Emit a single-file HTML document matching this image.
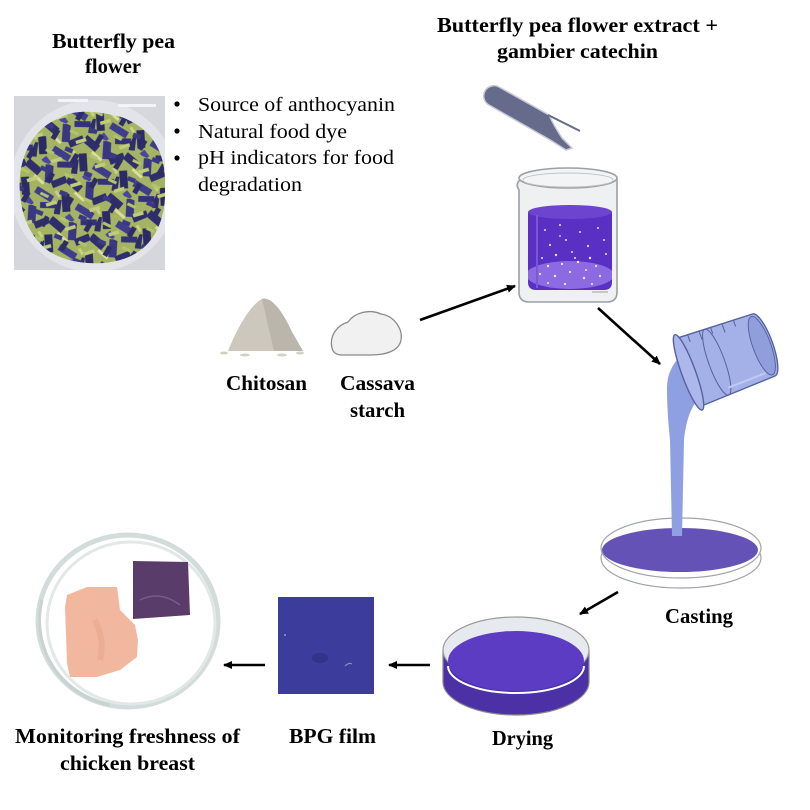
<!DOCTYPE html>
<html><head><meta charset="utf-8"><style>
html,body{margin:0;padding:0;background:#fff;}
svg{display:block;}
text{font-family:"Liberation Serif","Times New Roman",serif;fill:#000;}
.b{font-weight:bold;font-size:21px;}
.r{font-size:20px;}
</style></head><body>
<svg width="810" height="810" viewBox="0 0 810 810" xmlns="http://www.w3.org/2000/svg">
<defs>
<marker id="ah" markerWidth="10" markerHeight="10" refX="8" refY="5" orient="auto" markerUnits="userSpaceOnUse">
<path d="M0,1 L9,5 L0,9 Z" fill="#000"/>
</marker>
<pattern id="fl" width="44" height="44" patternUnits="userSpaceOnUse" patternTransform="rotate(23)">
<rect width="44" height="44" fill="#a4b462"/>
<path d="M0,6 L16,11" stroke="#2f2d6c" stroke-width="8"/>
<path d="M22,0 L28,17" stroke="#3a3782" stroke-width="8"/>
<path d="M4,21 L12,37" stroke="#2c2a66" stroke-width="8"/>
<path d="M19,28 L38,31" stroke="#403c8c" stroke-width="7"/>
<path d="M32,18 L43,7" stroke="#2f2d6c" stroke-width="7"/>
<path d="M29,41 L44,35" stroke="#34317a" stroke-width="6"/>
<path d="M12,16 L24,20" stroke="#dcdea0" stroke-width="3"/>
<path d="M38,22 L44,26" stroke="#c8d27e" stroke-width="3"/>
<path d="M14,40 L21,44" stroke="#4a45a0" stroke-width="6"/>
<path d="M0,29 L4,43" stroke="#2e2c6a" stroke-width="6"/>
</pattern>
<pattern id="fl2" width="31" height="31" patternUnits="userSpaceOnUse" patternTransform="rotate(-38)">
<path d="M3,4 L13,8" stroke="#c1cd78" stroke-width="3.5"/>
<path d="M18,18 L28,14" stroke="#2d2b68" stroke-width="5"/>
<path d="M6,22 L10,30" stroke="#b3c46c" stroke-width="3"/>
<path d="M22,2 L26,9" stroke="#3b3886" stroke-width="4.5"/>
</pattern>
<clipPath id="photo"><rect x="14" y="96" width="151" height="174"/></clipPath>
<clipPath id="heap"><path d="M20,192 C17,160 32,128 60,118 C75,108 100,112 118,116 C150,126 166,150 165,185 C167,225 150,252 120,260 C100,266 70,264 50,252 C30,238 21,215 20,192 Z"/></clipPath>
<clipPath id="liq"><path d="M528,212 L528,282 Q528,290 536,290 L604,290 Q612,290 612,282 L612,212 Z"/></clipPath>
</defs>

<!-- Top-left title -->
<text class="b" x="52" y="48" textLength="123" lengthAdjust="spacingAndGlyphs">Butterfly pea</text>
<text class="b" x="85" y="73" textLength="56" lengthAdjust="spacingAndGlyphs">flower</text>

<!-- Photo -->
<g clip-path="url(#photo)">
<rect x="14" y="96" width="151" height="174" fill="#d6d7dc"/>
<ellipse cx="94" cy="186" rx="84" ry="86" fill="#e3e4e9"/>
<rect x="58" y="99" width="30" height="3" fill="#f4f4f6"/>
<rect x="118" y="104" width="38" height="3" fill="#f4f4f6"/>
<g clip-path="url(#heap)">
<rect x="10" y="100" width="160" height="170" fill="url(#fl)"/>
<rect x="10" y="100" width="160" height="170" fill="url(#fl2)"/>
</g>
</g>

<!-- Bullets -->
<circle cx="177" cy="104" r="2.6" fill="#000"/>
<circle cx="177" cy="131" r="2.6" fill="#000"/>
<circle cx="177" cy="158" r="2.6" fill="#000"/>
<text class="r" x="198" y="111" textLength="197" lengthAdjust="spacingAndGlyphs">Source of anthocyanin</text>
<text class="r" x="198" y="138" textLength="149" lengthAdjust="spacingAndGlyphs">Natural food dye</text>
<text class="r" x="198" y="164" textLength="196" lengthAdjust="spacingAndGlyphs">pH indicators for food</text>
<text class="r" x="198" y="191" textLength="104" lengthAdjust="spacingAndGlyphs">degradation</text>

<!-- Top-right title -->
<text class="b" x="437" y="32" textLength="281" lengthAdjust="spacingAndGlyphs">Butterfly pea flower extract +</text>
<text class="b" x="497" y="58" textLength="161" lengthAdjust="spacingAndGlyphs">gambier catechin</text>

<!-- Pipette -->
<path d="M499,87 L549,115 Q554,126 562,138 L572,148 L566,150 L552,141 L489,105 A9,9 0 0 1 499,87 Z" fill="#666b8b" stroke="#c6c9d6" stroke-width="1.5"/>
<path d="M548,115 L580,131" stroke="#666b8b" stroke-width="2"/>

<!-- Static beaker -->
<path d="M520,180 Q515,184 519,190 L519,292 Q519,302 529,302 L607,302 Q617,302 617,292 L617,178" fill="#eef0f2" stroke="#9ca0a4" stroke-width="1.6"/>
<ellipse cx="568" cy="178" rx="49" ry="10" fill="#f3f4f5" stroke="#9ca0a4" stroke-width="1.6"/>
<ellipse cx="568" cy="180" rx="45" ry="7" fill="none" stroke="#c2c5c9" stroke-width="1"/>
<g clip-path="url(#liq)">
<rect x="526" y="205" width="90" height="90" fill="#5a30c4"/>
<ellipse cx="570" cy="275" rx="44" ry="14" fill="#8b6ae2"/>
</g>
<ellipse cx="570" cy="212" rx="42" ry="7" fill="#6c44d0"/>
<line x1="537" y1="215" x2="537" y2="288" stroke="#7a58d4" stroke-width="2"/>
<g fill="#ffffff" opacity="0.85">
<circle cx="545" cy="230" r="1"/><circle cx="560" cy="225" r="1"/><circle cx="580" cy="232" r="1"/><circle cx="598" cy="228" r="1"/>
<circle cx="550" cy="245" r="1.1"/><circle cx="566" cy="240" r="1"/><circle cx="588" cy="246" r="1.1"/><circle cx="604" cy="240" r="1"/>
<circle cx="542" cy="258" r="1"/><circle cx="556" cy="255" r="1.2"/><circle cx="572" cy="252" r="1"/><circle cx="590" cy="258" r="1.2"/><circle cx="606" cy="254" r="1"/>
<circle cx="548" cy="266" r="1.2"/><circle cx="562" cy="264" r="1.1"/><circle cx="578" cy="262" r="1.2"/><circle cx="596" cy="266" r="1.1"/><circle cx="586" cy="270" r="1"/>
<circle cx="540" cy="274" r="1.1"/><circle cx="555" cy="276" r="1.2"/><circle cx="570" cy="272" r="1.1"/><circle cx="584" cy="278" r="1.2"/><circle cx="600" cy="276" r="1.1"/>
<circle cx="548" cy="283" r="1"/><circle cx="565" cy="284" r="1.1"/><circle cx="592" cy="284" r="1"/><circle cx="575" cy="258" r="1"/><circle cx="560" cy="236" r="0.9"/>
</g>
<line x1="592" y1="292" x2="608" y2="292" stroke="#9ca0a4" stroke-width="1"/>

<!-- Powders -->
<path d="M228,351 C234,336 248,306 262,299 C272,296 284,314 292,332 L303,351 Z" fill="#cdc8be"/>
<path d="M262,299 C272,296 284,314 292,332 L303,351 L274,351 Z" fill="#bbb6ac"/>
<g fill="#d4d0c8"><ellipse cx="224" cy="353" rx="4" ry="1.5"/><ellipse cx="245" cy="355" rx="5" ry="1.5"/><ellipse cx="282" cy="355" rx="5" ry="1.5"/><ellipse cx="300" cy="353" rx="4" ry="1.5"/></g>
<path d="M332,348 C329,335 338,325 348,322 C355,312 370,309 381,314 C395,316 403,330 401,340 C399,351 386,355 370,355 L342,355 C336,355 333,352 332,348 Z" fill="#f1f1f1" stroke="#8a8a8a" stroke-width="1.3"/>

<text class="b" x="226" y="390" textLength="81" lengthAdjust="spacingAndGlyphs">Chitosan</text>
<text class="b" x="340" y="390" textLength="75" lengthAdjust="spacingAndGlyphs">Cassava</text>
<text class="b" x="350" y="417" textLength="55" lengthAdjust="spacingAndGlyphs">starch</text>

<!-- Arrows -->
<g stroke="#000" stroke-width="2.6" fill="none" marker-end="url(#ah)">
<line x1="420" y1="320" x2="515" y2="286"/>
<line x1="598" y1="308" x2="660" y2="364"/>
<line x1="618" y1="592" x2="580" y2="614"/>
<line x1="430" y1="665" x2="389" y2="665"/>
<line x1="265" y1="665" x2="224" y2="665"/>
</g>

<!-- Casting plate -->
<ellipse cx="681" cy="558" rx="80" ry="30" fill="#fff" stroke="#a0a4a8" stroke-width="1.2"/>
<ellipse cx="681" cy="548" rx="80" ry="30" fill="#fff" stroke="#a0a4a8" stroke-width="1.2"/>
<ellipse cx="680" cy="550" rx="78" ry="22" fill="#6452b6"/>

<!-- Stream -->
<path d="M667,388 C667,362 688,346 702,350 L706,394 C692,400 686,420 684,440 L682,536 L672,536 L670,440 C668,420 667,405 667,388 Z" fill="#8e9fe2"/>

<!-- Pouring beaker -->
<g transform="translate(728,358) rotate(-20)">
<path d="M-40,-36 L38,-33 A9,33 0 0 1 38,33 L-40,36 Z" fill="#a4b1e8" stroke="#56629e" stroke-width="1.4"/>
<ellipse cx="36" cy="0" rx="9" ry="31" fill="#909fdc" stroke="#56629e" stroke-width="1"/>
<ellipse cx="-12" cy="0" rx="8" ry="35" fill="none" stroke="#56629e" stroke-width="1"/>
<path d="M-30,-36 L-30,-28 M-18,-35 L-18,-26 M-6,-35 L-6,-28 M6,-34 L6,-25 M18,-34 L18,-27" stroke="#56629e" stroke-width="1"/>
<line x1="-10" y1="28" x2="30" y2="27" stroke="#c0c9f0" stroke-width="2"/>
<ellipse cx="-42" cy="0" rx="7" ry="40" fill="#acb8ec" stroke="#56629e" stroke-width="1.4"/>
</g>

<text class="b" x="665" y="623" textLength="68" lengthAdjust="spacingAndGlyphs">Casting</text>

<!-- Drying dish -->
<ellipse cx="516" cy="682" rx="73" ry="33" fill="#4b30a6" stroke="#8a8a8a" stroke-width="1.2"/>
<rect x="443" y="650" width="146" height="32" fill="#4b30a6"/>
<line x1="443" y1="650" x2="443" y2="682" stroke="#8a8a8a" stroke-width="1.2"/>
<line x1="589" y1="650" x2="589" y2="682" stroke="#8a8a8a" stroke-width="1.2"/>
<ellipse cx="516" cy="650" rx="73" ry="33" fill="#e6e9ee" stroke="#9a9a9a" stroke-width="1.2"/>
<ellipse cx="516" cy="661" rx="68" ry="30" fill="#5b3cc2"/>
<path d="M448,666 A68,27 0 0 0 584,666" fill="none" stroke="#ffffff" stroke-width="2"/>

<text class="b" x="492" y="745" textLength="61" lengthAdjust="spacingAndGlyphs">Drying</text>

<!-- BPG film -->
<rect x="278" y="597" width="96" height="97" fill="#3b3c9b"/>
<ellipse cx="320" cy="658" rx="8" ry="5" fill="#32338a"/>
<circle cx="285" cy="635" r="1" fill="#9a9ad0"/>
<path d="M345,666 Q349,662 352,664" stroke="#8a8ac8" stroke-width="1.2" fill="none"/>
<text class="b" x="289" y="743" textLength="87" lengthAdjust="spacingAndGlyphs">BPG film</text>

<!-- Chicken plate -->
<ellipse cx="128" cy="621" rx="90" ry="86" fill="#fff" stroke="#d2dcda" stroke-width="5"/>
<ellipse cx="131" cy="623" rx="84" ry="81" fill="none" stroke="#e2e8e6" stroke-width="3"/>
<path d="M42,600 A86,86 0 0 0 110,705" fill="none" stroke="#c8d3d1" stroke-width="3"/>
<path d="M133,561 L188,562 L190,615 L133,619 Z" fill="#5a3c6a"/>
<path d="M140,600 Q160,590 180,605" stroke="#7a5a88" stroke-width="1.5" fill="none"/>
<path d="M67,595 L87,587 L117,587 L120,610 L135,625 L138,640 L137,657 L120,670 L97,677 L70,677 L67,663 L65,607 Z" fill="#f2b89f"/>
<path d="M95,620 Q105,640 100,660" stroke="#e6a58c" stroke-width="6" fill="none" opacity="0.6"/>

<text class="b" x="15" y="743" textLength="225" lengthAdjust="spacingAndGlyphs">Monitoring freshness of</text>
<text class="b" x="60" y="770" textLength="135" lengthAdjust="spacingAndGlyphs">chicken breast</text>
</svg>
</body></html>
